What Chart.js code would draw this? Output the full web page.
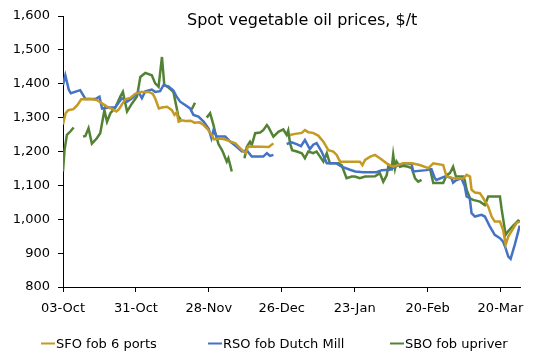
<!DOCTYPE html>
<html lang="en">
<head>
    <meta charset="UTF-8">
    <title>Spot vegetable oil prices</title>
    <script src="https://cdn.jsdelivr.net/npm/chart.js"></script>
    <style>
        html, body {
            margin: 0;
            padding: 0;
            background: #fff;
        }
        .chart-box {
            position: relative;
            width: 540px;
            height: 364px;
        }
    </style>
</head>
<body>
    <div class="chart-box">
        <canvas id="oilChart"></canvas>
    </div>

    <script>
        // x values are days counted from 03-Oct
        const tickDays = [0, 28, 56, 84, 112, 140, 168];
        const tickLabels = ['03-Oct', '31-Oct', '28-Nov', '26-Dec', '23-Jan', '20-Feb', '20-Mar'];

        const seriesNames = ['SFO fob 6 ports', 'RSO fob Dutch Mill', 'SBO fob upriver'];

        // SFO fob 6 ports
        const sfoDays = [0, 1, 2, 4, 5.5, 7, 10.5, 13, 15, 17, 19, 20.5, 21.5, 22.7, 24, 26, 27.7, 30, 33, 34.5,
            35.5, 36.8, 38, 40, 41.8, 42.8, 43.7, 44.4, 45.6, 47, 49, 50.5, 52.5, 54, 55.5, 57, 58, 60, 62, 64.2,
            66.2, 68, 69.3, 70.2, 71, 73, 76, 79, 80.8, 84, 87.2, 89.1, 91.7, 92.9, 94.2, 96, 98, 100, 101.9, 103.8,
            105.1, 106.4, 110, 114, 115, 116, 118, 119.8, 121.7, 124.3, 126.8, 130.6, 134, 137, 140.3, 142.2, 146, 147.3, 150.5, 153.7,
            155, 156.3, 156.9, 158.2, 160.1, 161.4, 163.3, 164.6, 165.8, 167.8, 169, 170, 171, 172.2, 174.2, 175.4];
        const sfoPrices = [1280, 1313, 1322, 1325, 1337, 1354, 1355, 1352, 1342, 1332, 1325, 1318, 1325, 1340, 1354, 1359, 1370, 1376, 1376, 1370,
            1355, 1327, 1330, 1332, 1322, 1308, 1316, 1288, 1292, 1290, 1291, 1285, 1286, 1278, 1266, 1250, 1236, 1238, 1236, 1230,
            1224, 1210, 1200, 1195, 1214, 1215, 1214, 1213, 1224, null, 1249, 1252, 1255, 1263, 1257, 1255, 1247, 1229, 1204, 1200,
            1190, 1170, 1170, 1170, 1160, 1175, 1185, 1190, 1180, 1165, 1155, 1165, 1165, 1160, 1151, 1165, 1160, 1126, 1120, 1120,
            1131, 1126, 1087, 1079, 1077, 1062, 1037, 1008, 993, 993, 969, 925, 949, 964, 989, 993];

        // RSO fob Dutch Mill
        const rsoDays = [0, 0.9, 2.2, 3, 6.6, 8.6, 12.4, 14, 15, 17.5, 20, 22.6, 24.6, 27, 29, 30.3, 31.6, 34.1, 35.4, 37.3,
            38.6, 40.5, 42.4, 43.7, 45, 46.9, 48.8, 50.1, 52, 54, 55.9, 57, 57.8, 59, 62.3, 64.2, 66.7, 68.7, 70.6, 72.5,
            76.9, 78.3, 79.5, 80.8, 83, 85.9, 87.8, 89.7, 91.4, 92.9, 94.8, 96.1, 97.4, 99.3, 101.3, 105, 107, 110.2, 112.2, 115.3,
            120.4, 122.4, 125.5, 128.7, 132, 133.9, 134.5, 139.6, 141.5, 142.8, 143.4, 147.3, 149.2, 149.8, 151.1, 153, 154.3, 155, 156.2, 156.9,
            158.2, 160.7, 162, 163.9, 165.8, 167.8, 169, 170, 171, 171.9, 173.5, 175.4];
        const rsoPrices = [1396, 1425, 1383, 1372, 1381, 1355, 1355, 1362, 1327, 1330, 1330, 1357, 1347, 1360, 1376, 1357, 1378, 1383, 1376, 1378,
            1396, 1392, 1380, 1361, 1347, 1337, 1327, 1308, 1303, 1288, 1268, 1239, 1263, 1244, 1244, 1229, 1214, 1200, 1203, 1185,
            1185, 1195, 1187, 1190, null, 1222, 1227, 1222, 1216, 1234, 1207, 1220, 1225, 1200, 1165, 1165, 1155, 1146, 1141, 1139,
            1139, 1145, 1146, 1160, 1165, 1162, 1141, 1145, 1148, 1121, 1116, 1128, 1121, 1108, 1116, 1121, 1097, 1067, 1062, 1018,
            1008, 1013, 1008, 979, 954, 944, 934, 914, 890, 883, 925, 981];

        // SBO fob upriver
        const sboDays = [0, 0.6, 1.5, 2.8, 4.1, 6, 7.7, 8.6, 9.8, 11.1, 13, 14.3, 15.9, 16.9, 18.2, 20.1, 22, 23, 24.6, 26.5,
            28.4, 29.7, 31.6, 34.1, 35.4, 36.7, 38, 38.9, 40.5, 42.4, 43.7, 44.3, 45.2, 47, 49.4, 50.7, 53, 55.2, 56.5, 57.8,
            58.5, 59.7, 61, 61.6, 62.9, 63.5, 64.2, 64.8, 67, 69.7, 70.6, 71.8, 72.5, 73.8, 75.7, 76.9, 78.3, 78.9, 80.8, 82.7,
            84.6, 85.9, 86.5, 87.2, 88, 89.8, 91.7, 92.9, 94.2, 96.1, 97.4, 98.7, 100, 101.3, 102.5, 105.7, 107, 108.9, 110.9, 112.1,
            114, 116, 119.8, 121.7, 123, 124.3, 124.9, 126.2, 126.8, 127.5, 128.1, 129.4, 130.6, 132.6, 133.9, 135.2, 136.4, 137.7, 139.5, 140.9,
            142.2, 146, 147.3, 148.6, 149.8, 150.9, 153.7, 154.3, 155, 156.3, 157.5, 160.1, 162, 163.3, 167.8, 168.4, 170, 171, 172.9, 174.8,
            175.4];
        const sboPrices = [1141, 1205, 1249, 1259, 1271, null, 1244, 1246, 1269, 1223, 1239, 1254, 1322, 1288, 1313, 1330, 1362, 1376, 1318, 1342,
            1362, 1420, 1432, 1425, 1401, 1391, 1479, 1396, 1389, 1376, 1327, 1303, 1295, null, 1324, 1344, null, 1300, 1313, 1278,
            1254, 1222, 1205, 1195, 1170, 1180, 1160, 1141, null, 1180, 1214, 1229, 1219, 1254, 1256, 1263, 1278, 1272, 1244, 1258,
            1265, 1249, 1262, 1224, 1204, 1200, 1195, 1180, 1200, 1195, 1200, 1185, 1170, 1195, 1165, 1165, 1160, 1121, 1126, 1126,
            1121, 1126, 1127, 1136, 1111, 1130, 1155, 1148, 1190, 1150, 1170, 1155, 1158, 1155, 1151, 1121, 1111, 1116, null, 1151,
            1107, 1107, 1130, 1136, 1155, 1126, 1126, 1115, 1087, 1062, 1057, 1052, 1042, 1067, 1067, 1032, 954, 965, 981, 996,
            993];

        const colors = ['#C49A22', '#4472C4', '#548235'];

        function toPoints(days, prices) {
            return days.map((d, i) => ({ x: d, y: prices[i] }));
        }

        // title and legend are drawn by hand so they sit where the original has them
        const titleAndLegend = {
            id: 'titleAndLegend',
            afterDraw(chart) {
                const ctx = chart.ctx;
                ctx.save();
                ctx.fillStyle = '#000';
                ctx.font = '16px "DejaVu Sans", sans-serif';
                ctx.textAlign = 'left';
                ctx.textBaseline = 'alphabetic';
                ctx.fillText('Spot vegetable oil prices, $/t', 187, 25);

                const starts = [41, 208, 390];
                ctx.font = '13px "DejaVu Sans", sans-serif';
                chart.data.datasets.forEach((ds, i) => {
                    ctx.strokeStyle = ds.borderColor;
                    ctx.lineWidth = 2;
                    ctx.beginPath();
                    ctx.moveTo(starts[i], 343.5);
                    ctx.lineTo(starts[i] + 14, 343.5);
                    ctx.stroke();
                    ctx.fillStyle = '#000';
                    ctx.fillText(ds.label, starts[i] + 15, 348);
                });
                ctx.restore();
            }
        };

        Chart.defaults.font.family = '"DejaVu Sans", sans-serif';
        Chart.defaults.font.size = 13;
        Chart.defaults.color = '#000';

        const ctx = document.getElementById('oilChart').getContext('2d');
        new Chart(ctx, {
            type: 'line',
            data: {
                datasets: [
                    { label: seriesNames[0], data: toPoints(sfoDays, sfoPrices), borderColor: colors[0] },
                    { label: seriesNames[1], data: toPoints(rsoDays, rsoPrices), borderColor: colors[1] },
                    { label: seriesNames[2], data: toPoints(sboDays, sboPrices), borderColor: colors[2] }
                ]
            },
            options: {
                responsive: true,
                maintainAspectRatio: false,
                animation: false,
                spanGaps: false,
                elements: {
                    line: { borderWidth: 2.5, tension: 0, fill: false },
                    point: { radius: 0, hoverRadius: 0 }
                },
                layout: {
                    padding: { left: 0, right: 20, top: 16, bottom: 0 }
                },
                scales: {
                    x: {
                        type: 'linear',
                        min: 0,
                        max: 175.5,
                        afterBuildTicks: (scale) => {
                            scale.ticks = tickDays.map(v => ({ value: v }));
                        },
                        afterFit: (scale) => { scale.height = 77; },
                        ticks: {
                            padding: 9,
                            maxRotation: 0,
                            autoSkip: false,
                            callback: (value) => tickLabels[tickDays.indexOf(value)]
                        },
                        grid: {
                            display: true,
                            drawOnChartArea: false,
                            drawTicks: true,
                            tickLength: 5,
                            color: '#000'
                        },
                        border: { display: true, color: '#000', width: 1 }
                    },
                    y: {
                        min: 800,
                        max: 1600,
                        afterFit: (scale) => { scale.width = 63; },
                        ticks: {
                            stepSize: 100,
                            padding: 8,
                            callback: (value) => value.toLocaleString('en-US')
                        },
                        grid: {
                            display: true,
                            drawOnChartArea: false,
                            drawTicks: true,
                            tickLength: 5,
                            color: '#000'
                        },
                        border: { display: true, color: '#000', width: 1 }
                    }
                },
                plugins: {
                    legend: { display: false },
                    title: { display: false },
                    tooltip: { enabled: false }
                }
            },
            plugins: [titleAndLegend]
        });
    </script>
</body>
</html>
